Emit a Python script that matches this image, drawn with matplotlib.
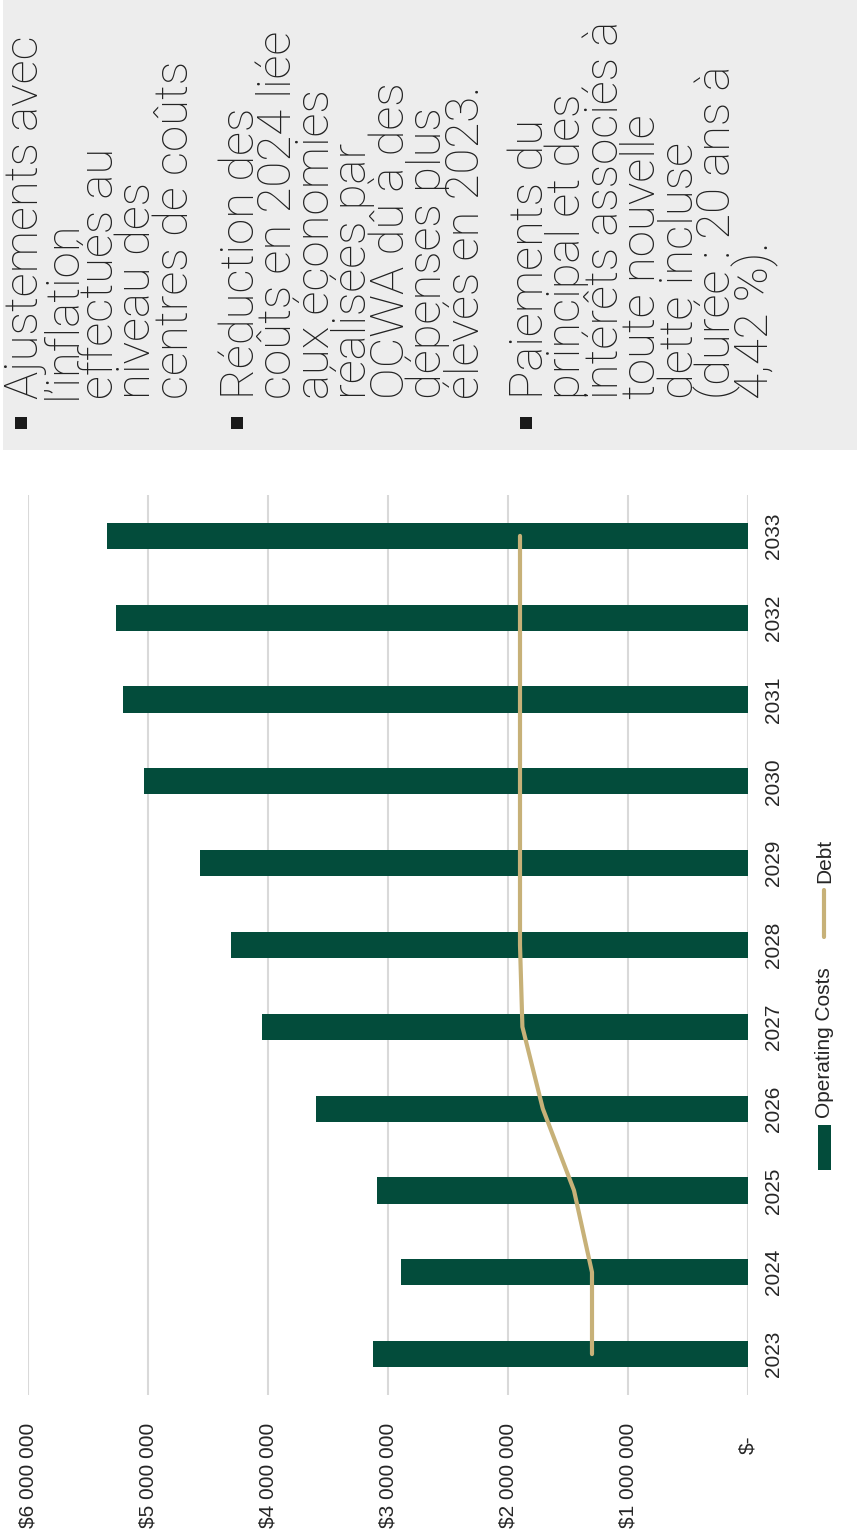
import matplotlib
matplotlib.use('Agg')
import matplotlib.pyplot as plt
from matplotlib import font_manager
from matplotlib.patches import Rectangle

# Chart data
years = ['2023', '2024', '2025', '2026', '2027', '2028', '2029', '2030', '2031', '2032', '2033']
operating_costs = [3125000, 2890000, 3090000, 3600000, 4050000, 4310000, 4570000, 5030000, 5210000, 5270000, 5340000]
debt = [1300000, 1300000, 1450000, 1710000, 1880000, 1900000, 1900000, 1900000, 1900000, 1900000, 1900000]
value_ticks = [0, 1000000, 2000000, 3000000, 4000000, 5000000, 6000000]
value_labels = ['$-', '$1 000 000', '$2 000 000', '$3 000 000', '$4 000 000', '$5 000 000', '$6 000 000']
series_names = ['Operating Costs', 'Debt']

notes = [
    ['Ajustements avec', 'l’inflation', 'effectués au', 'niveau des', 'centres de coûts'],
    ['Réduction des', 'coûts en 2024 liée', 'aux économies', 'réalisées par',
     'OCWA dû à des', 'dépenses plus', 'élevés en 2023.'],
    ['Paiements du', 'principal et des', 'intérêts associés à', 'toute nouvelle',
     'dette incluse', '(durée : 20 ans à', '4,42 %).'],
]

GREEN = '#034C3B'
TAN = '#C7B178'
GRID = '#D9D9D9'
TXT = '#262626'

# pick fonts that are installed
names = {f.name for f in font_manager.fontManager.ttflist}
if 'Liberation Sans Narrow' in names:
    chart_font, chart_size = 'Liberation Sans Narrow', 17
else:
    chart_font, chart_size = 'Liberation Sans', 15
light_roboto = any(f.name == 'Roboto' and f.weight in (300, 'light') for f in font_manager.fontManager.ttflist)
note_font = 'Roboto' if 'Roboto' in names else 'Liberation Sans'
note_weight = 'light' if light_roboto else 'normal'

W, H = 857, 1533
fig = plt.figure(figsize=(W / 100, H / 100), dpi=100)

# overlay in pixel coordinates for the notes panel and the legend
ov = fig.add_axes([0, 0, 1, 1], zorder=0)
ov.set_xlim(0, W)
ov.set_ylim(H, 0)
ov.axis('off')
ov.patch.set_alpha(0)

# grey notes panel (everything is turned 90 degrees)
ov.add_patch(Rectangle((3, 0), W - 3, 450, color='#EDEDED', lw=0))
first_baselines = [38, 254, 543]
for para, base in zip(notes, first_baselines):
    ov.add_patch(Rectangle((base - 22.5, 417), 12, 12, color='#1A1A1A', lw=0))
    for i, line in enumerate(para):
        ov.text(base + i * 37.5, 399, line, rotation=90, rotation_mode='anchor',
                ha='left', va='baseline', fontsize=34, family=note_font,
                weight=note_weight, color='#222222')

# main chart, drawn sideways: values run right-to-left, years bottom-to-top
ax = fig.add_axes([28 / W, (H - 1395) / H, 720 / W, 900 / H], zorder=1)
pos = list(range(len(years)))
ax.barh(pos, operating_costs, height=0.32, color=GREEN, zorder=2)
ax.plot(debt, pos, color=TAN, lw=3, solid_capstyle='round', solid_joinstyle='round', zorder=3)

ax.set_xlim(6000000, 0)
ax.set_ylim(-0.5, 10.5)
ax.set_xticks(value_ticks)
ax.set_yticks([])
ax.tick_params(axis='x', length=0, labelbottom=False)
ax.grid(axis='x', color=GRID, lw=1.5)
ax.set_axisbelow(True)
for s in ax.spines.values():
    s.set_visible(False)
ax.patch.set_alpha(0)

for v, lab in zip(value_ticks, value_labels):
    off = 40 if v == 0 else 28
    ax.text(v, -off / 900, lab, transform=ax.get_xaxis_transform(), rotation=90,
            ha='center', va='top', fontsize=chart_size, family=chart_font, color=TXT)

for p, yr in zip(pos, years):
    ax.text((773 - 28) / 720, p, yr, transform=ax.get_yaxis_transform(), rotation=90,
            ha='center', va='center', fontsize=chart_size, family=chart_font, color=TXT)

# legend
ov.add_patch(Rectangle((818, 1125), 13, 45, color=GREEN, lw=0))
ov.text(830, 1118, series_names[0], rotation=90, rotation_mode='anchor', ha='left',
        va='baseline', fontsize=chart_size, family=chart_font, color=TXT)
ov.plot([824, 824], [937, 890], color=TAN, lw=3, solid_capstyle='round')
ov.text(830, 883, series_names[1], rotation=90, rotation_mode='anchor', ha='left',
        va='baseline', fontsize=chart_size, family=chart_font, color=TXT)

fig.savefig('out.png', dpi=100)
